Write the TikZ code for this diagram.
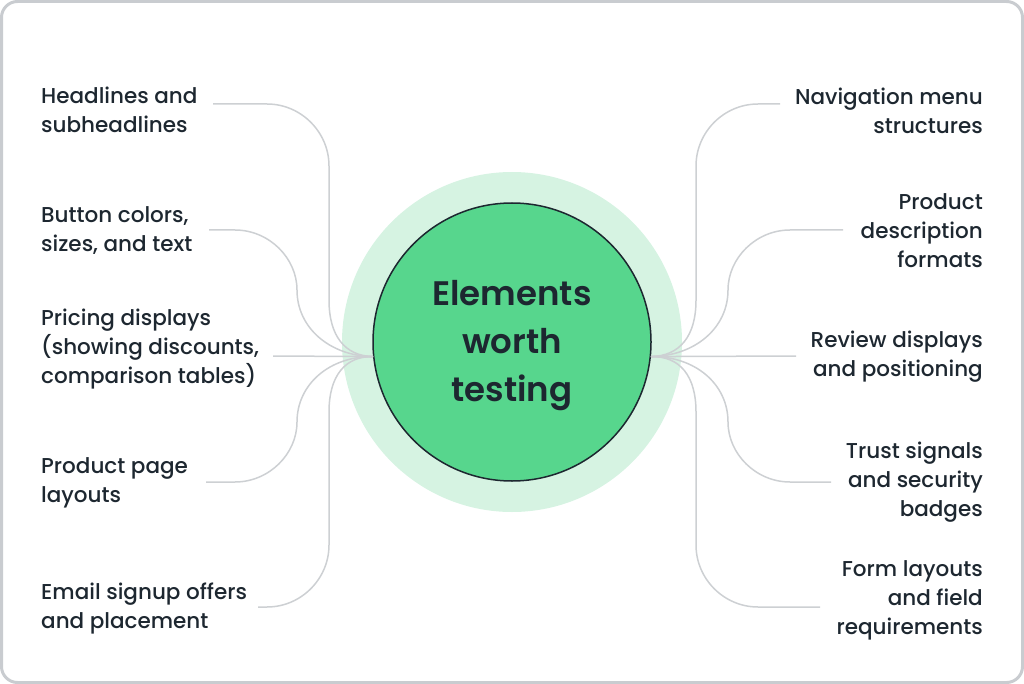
\documentclass[tikz,border=0pt]{standalone}
\usepackage{fontspec}
\setmainfont{Poppins}[UprightFont=* Medium, BoldFont=* SemiBold]
\definecolor{ink}{HTML}{1D2730}
\definecolor{leaf}{HTML}{57D68D}
\definecolor{mint}{HTML}{D6F3E2}
\definecolor{wire}{HTML}{CDD0D3}
\definecolor{frame}{HTML}{C9CCD0}

\begin{document}
\begin{tikzpicture}[x=1pt,y=-1pt,
    item/.style={font=\fontsize{21.5}{29}\selectfont, text=ink, inner sep=0pt},
    link/.style={draw=wire, line width=1.5pt}]
  \useasboundingbox (0,0) rectangle (1024,684);

  % Outer frame
  \draw[frame, line width=3pt, rounded corners=16pt] (1.5,1.5) rectangle (1022.5,682.5);

  % Centre circle with halo
  \fill[mint] (512,342) circle (170pt);
  \node[circle, draw=ink, line width=1.5pt, fill=leaf, minimum size=278pt,
        inner sep=0pt] (core) at (512,342) {};
  \node[align=center, text=ink, font=\bfseries\fontsize{34}{48}\selectfont]
    (title) at ([yshift=-4pt]core.center) {Elements\\worth\\testing};
  \coordinate (hubw) at (core.186);
  \coordinate (hube) at (core.354);

  % Left labels
  \node[item, anchor=west, align=left] (hd) at (41,110) {Headlines and\\subheadlines};
  \node[item, anchor=west, align=left] (bt) at (41,231) {Button colors,\\sizes, and text};
  \node[item, anchor=west, align=left] (pr) at (41,349.5) {Pricing displays\\(showing discounts,\\comparison tables)};
  \node[item, anchor=west, align=left] (pp) at (41,483) {Product page\\layouts};
  \node[item, anchor=west, align=left] (em) at (41,609) {Email signup offers\\and placement};

  % Right labels
  \node[item, anchor=east, align=right] (nv) at (983,110.5) {Navigation menu\\structures};
  \node[item, anchor=east, align=right] (pd) at (983,230.5) {Product\\description\\formats};
  \node[item, anchor=east, align=right] (rv) at (983,357) {Review displays\\and positioning};
  \node[item, anchor=east, align=right] (ts) at (983,482.5) {Trust signals\\and security\\badges};
  \node[item, anchor=east, align=right] (fm) at (983,600.5) {Form layouts\\and field\\requirements};

  % Line ends next to the labels
  \coordinate (hd-end) at (213,104);
  \coordinate (bt-end) at (209,230);
  \coordinate (pr-end) at (273,356);
  \coordinate (pp-end) at (206,482);
  \coordinate (em-end) at (258,607);
  \coordinate (nv-end) at (780,104);
  \coordinate (pd-end) at (843,230);
  \coordinate (rv-end) at (796,356);
  \coordinate (ts-end) at (831,482);
  \coordinate (fm-end) at (820,607);

  % Left connectors
  \draw[link] (hd-end) -- (267,104) .. controls (301,104) and (329,132) .. (329,166)
    -- (329,300) .. controls (329,336) and (345,356) .. (hubw);
  \draw[link] (bt-end) -- (235,230) .. controls (269,230) and (297,258) .. (297,290)
    .. controls (297,328) and (330,356) .. (hubw);
  \draw[link] (pr-end) -- (hubw);
  \draw[link] (pp-end) -- (235,482) .. controls (269,482) and (297,454) .. (297,422)
    .. controls (297,384) and (330,356) .. (hubw);
  \draw[link] (em-end) -- (267,607) .. controls (301,607) and (329,579) .. (329,545)
    -- (329,412) .. controls (329,376) and (345,356) .. (hubw);

  % Right connectors
  \draw[link] (nv-end) -- (758,104) .. controls (724,104) and (696,132) .. (696,166)
    -- (696,300) .. controls (696,336) and (680,356) .. (hube);
  \draw[link] (pd-end) -- (790,230) .. controls (756,230) and (728,258) .. (728,290)
    .. controls (728,328) and (695,356) .. (hube);
  \draw[link] (rv-end) -- (hube);
  \draw[link] (ts-end) -- (790,482) .. controls (756,482) and (728,454) .. (728,422)
    .. controls (728,384) and (695,356) .. (hube);
  \draw[link] (fm-end) -- (758,607) .. controls (724,607) and (696,579) .. (696,545)
    -- (696,412) .. controls (696,376) and (680,356) .. (hube);
\end{tikzpicture}
\end{document}
